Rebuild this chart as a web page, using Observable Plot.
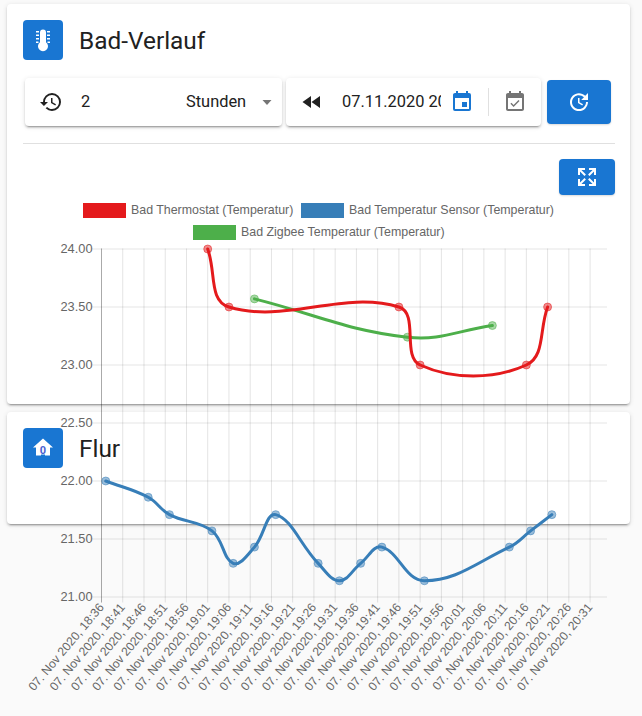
<!DOCTYPE html>
<html lang="de">
<head>
<meta charset="utf-8">
<title>Bad-Verlauf</title>
<script src="https://cdn.jsdelivr.net/npm/d3@7"></script>
<script src="https://cdn.jsdelivr.net/npm/@observablehq/plot@0.6"></script>
<style>
  html,body{margin:0;padding:0;background:#fafafa;}
  body{position:relative;width:642px;height:716px;overflow:hidden;font-family:Roboto,sans-serif;color:#212121;}
  .abs{position:absolute;}
  .card{position:absolute;background:#fff;border-radius:4px;box-shadow:0 3px 1px -2px rgba(0,0,0,.2),0 2px 2px 0 rgba(0,0,0,.14),0 1px 5px 0 rgba(0,0,0,.12);}
  .tile,.btn{position:absolute;background:#1976d2;border-radius:4px;display:flex;align-items:center;justify-content:center;}
  .btn{box-shadow:0 1px 2px rgba(0,0,0,.15);}
  .title{position:absolute;left:79px;font-size:24.4px;line-height:28px;}
  .field{position:absolute;font-size:16.4px;line-height:20px;}
  .icon{position:absolute;width:24px;height:24px;}
  .legend{position:absolute;font:12.4px "Liberation Sans",Arial,sans-serif;color:#666;white-space:nowrap;line-height:14px;}
  .swatch{position:absolute;width:43px;height:15px;}
  #chart{position:absolute;left:0;top:0;z-index:5;pointer-events:none;}
</style>
</head>
<body>
<div class="card" style="left:7px;top:4px;width:623px;height:400px;"></div>
<div class="card" style="left:7px;top:412px;width:623px;height:112px;"></div>

<div class="tile" style="left:23px;top:20px;width:40px;height:40px;">
  <svg width="24" height="24" viewBox="0 0 24 24" fill="#fff"><path d="M12 1.500a3 3 0 0 0-3 3v9.700a5 5 0 1 0 6 0V4.500a3 3 0 0 0-3-3z"/><path d="M5 3h3v1.500H5zM5 6.500h3V8H5zM5 10h3v1.500H5zM5 13.500h2.500V15H5zM16 3h3v1.500h-3zM16 6.500h3V8h-3zM16 10h3v1.500h-3zM16.500 13.500H19V15h-2.500z"/></svg>
</div>
<div class="title" style="top:27px;">Bad-Verlauf</div>

<div class="card" style="left:25px;top:78px;width:257px;height:48px;"></div>
<div class="card" style="left:286px;top:78px;width:255px;height:48px;"></div>

<svg class="icon" style="left:39px;top:90px;" viewBox="0 0 24 24" fill="#212121"><path d="M13 3a9 9 0 0 0-9 9H1l3.890 3.890.070.140L9 12H6c0-3.870 3.130-7 7-7s7 3.130 7 7-3.130 7-7 7c-1.930 0-3.680-.790-4.940-2.060l-1.420 1.420A8.954 8.954 0 0 0 13 21a9 9 0 0 0 0-18zm-1 5v5l4.280 2.540.720-1.210-3.500-2.080V8H12z"/></svg>
<div class="field" style="left:81px;top:92px;">2</div>
<div class="field" style="left:186px;top:92px;">Stunden</div>
<svg class="abs" style="left:261px;top:100px;" width="12" height="6" viewBox="0 0 12 6"><path d="M1.500 0h9L6 5z" fill="#757575"/></svg>

<svg class="icon" style="left:300px;top:90px;" viewBox="0 0 24 24" fill="#212121"><path d="M11 18V6l-8.500 6 8.500 6zm.500-6l8.500 6V6l-8.500 6z"/></svg>
<div class="field" style="left:342px;top:92px;width:99px;overflow:hidden;white-space:nowrap;">07.11.2020 20:21</div>
<svg class="icon" style="left:450px;top:90px;" viewBox="0 0 24 24" fill="#1976d2"><path d="M19 3h-1V1h-2v2H8V1H6v2H5c-1.110 0-2 .900-2 2v14a2 2 0 0 0 2 2h14a2 2 0 0 0 2-2V5a2 2 0 0 0-2-2zm0 16H5V8h14v11zM17 12h-5v5h5v-5z"/></svg>
<div class="abs" style="left:488px;top:88px;width:1px;height:28px;background:#e0e0e0;"></div>
<svg class="icon" style="left:503px;top:90px;" viewBox="0 0 24 24" fill="#757575"><path d="M16.530 11.060L15.470 10l-4.880 4.880-2.120-2.120-1.060 1.060L10.590 17l5.940-5.940zM19 3h-1V1h-2v2H8V1H6v2H5c-1.110 0-1.990.900-1.990 2L3 19c0 1.100.890 2 2 2h14c1.100 0 2-.900 2-2V5c0-1.100-.900-2-2-2zm0 16H5V8h14v11z"/></svg>

<div class="btn" style="left:547px;top:80px;width:64px;height:44px;">
  <svg width="24" height="24" viewBox="0 0 24 24" fill="#fff"><path d="M21 10.120h-6.780l2.740-2.820c-2.730-2.700-7.150-2.800-9.880-.100-2.730 2.710-2.730 7.080 0 9.790s7.150 2.710 9.880 0C18.320 15.650 19 14.080 19 12.100h2c0 1.980-.880 4.550-2.640 6.290-3.510 3.480-9.210 3.480-12.720 0-3.500-3.470-3.530-9.110-.020-12.580s9.140-3.470 12.650 0L21 3v7.120zM12.500 8v4.250l3.500 2.080-.720 1.210L11 13V8h1.500z"/></svg>
</div>

<div class="abs" style="left:23px;top:143px;width:592px;height:1px;background:#e0e0e0;"></div>

<div class="btn" style="left:559px;top:159px;width:56px;height:36px;">
  <svg width="24" height="24" viewBox="0 0 24 24" fill="#fff"><path d="M9.500 13.090L10.910 14.500L6.410 19H10V21H3V14H5V17.590L9.500 13.090M10.910 9.500L9.500 10.910L5 6.410V10H3V3H10V5H6.410L10.910 9.500M14.500 13.090L19 17.590V14H21V21H14V19H17.590L13.090 14.500L14.500 13.090M13.090 9.500L17.590 5H14V3H21V10H19V6.410L14.500 10.910L13.090 9.500Z"/></svg>
</div>

<div class="swatch" style="left:83px;top:203px;background:#e41a1c;"></div>
<div class="legend" style="left:131px;top:203px;">Bad Thermostat (Temperatur)</div>
<div class="swatch" style="left:301px;top:203px;background:#377eb8;"></div>
<div class="legend" style="left:349px;top:203px;">Bad Temperatur Sensor (Temperatur)</div>
<div class="swatch" style="left:193px;top:225px;background:#4daf4a;"></div>
<div class="legend" style="left:241px;top:225px;">Bad Zigbee Temperatur (Temperatur)</div>

<div class="tile" style="left:23px;top:428px;width:40px;height:40px;">
  <svg width="24" height="24" viewBox="0 0 24 24"><path d="M10 20v-6h4v6h5v-8h3L12 3 2 12h3v8z" fill="#fff" transform="translate(0,-0.500)"/><rect x="9.500" y="9" width="5" height="9.500" fill="#fff"/><text x="12" y="18" text-anchor="middle" font-family="Roboto" font-weight="700" font-size="11" fill="#4a5fd0">0</text></svg>
</div>
<div class="title" style="top:435px;">Flur</div>

<div id="chart"></div>

<script>
// Tick labels and value ticks
const dayLabel = "07. Nov 2020";
const xTickTimes = ["18:36","18:41","18:46","18:51","18:56","19:01","19:06","19:11","19:16","19:21","19:26","19:31","19:36","19:41","19:46","19:51","19:56","20:01","20:06","20:11","20:16","20:21","20:26","20:31"];
const yTicks = [21, 21.5, 22, 22.5, 23, 23.5, 24];

// Bad Thermostat (Temperatur)
const thermostatTimes = ["19:01","19:06","19:46","19:51","20:16","20:21"];
const thermostatValues = [24.0, 23.5, 23.5, 23.0, 23.0, 23.5];

// Bad Temperatur Sensor (Temperatur)
const sensorTimes = ["18:37","18:47","18:52","19:02","19:07","19:12","19:17","19:27","19:32","19:37","19:42","19:52","20:12","20:17","20:22"];
const sensorValues = [22.0, 21.86, 21.71, 21.57, 21.29, 21.43, 21.71, 21.29, 21.14, 21.29, 21.43, 21.14, 21.43, 21.57, 21.71];

// Bad Zigbee Temperatur (Temperatur)
const zigbeeTimes = ["19:12","19:48","20:08"];
const zigbeeValues = [23.57, 23.24, 23.34];

const colors = {thermostat:"#e41a1c", sensor:"#377eb8", zigbee:"#4daf4a"};

const toDate = t => new Date(`2020-11-07T${t}:00Z`);
const rows = (times, values) => times.map((t,i) => ({time: toDate(t), value: values[i]}));

// Chart.js style bezier spline (tension 0.4), as a d3 curve factory
function chartSpline(context){
  let pts;
  const t = 0.4;
  return {
    areaStart(){}, areaEnd(){},
    lineStart(){ pts = []; },
    point(x,y){ pts.push([+x,+y]); },
    lineEnd(){
      const n = pts.length;
      if (!n) return;
      const ctrl = pts.map((p,i) => {
        const a = pts[Math.max(i-1,0)], b = pts[Math.min(i+1,n-1)];
        const d01 = Math.hypot(p[0]-a[0],p[1]-a[1]), d12 = Math.hypot(b[0]-p[0],b[1]-p[1]);
        const sum = d01+d12 || 1;
        const fa = t*d01/sum, fb = t*d12/sum;
        return {
          px: p[0]-fa*(b[0]-a[0]), py: p[1]-fa*(b[1]-a[1]),
          nx: p[0]+fb*(b[0]-a[0]), ny: p[1]+fb*(b[1]-a[1])
        };
      });
      context.moveTo(pts[0][0],pts[0][1]);
      for (let i=1;i<n;i++){
        context.bezierCurveTo(ctrl[i-1].nx,ctrl[i-1].ny,ctrl[i].px,ctrl[i].py,pts[i][0],pts[i][1]);
      }
    }
  };
}

const seriesMarks = (data, color) => [
  Plot.line(data, {x:"time", y:"value", stroke:color, strokeWidth:3, curve:chartSpline}),
  Plot.dot(data, {x:"time", y:"value", r:4, fill:color, fillOpacity:0.5, stroke:color, strokeOpacity:0.5, strokeWidth:1})
];

const xTickDates = xTickTimes.map(toDate);
const labelOf = d => `${dayLabel}, ${d3.utcFormat("%H:%M")(d)}`;

const chart = Plot.plot({
  width:642,
  height:716,
  marginLeft:101,
  marginRight:35,
  marginTop:248.500,
  marginBottom:119.500,
  style:{background:"transparent", fontFamily:'"Liberation Sans",Arial,sans-serif', fontSize:"12.8px"},
  x:{type:"utc", domain:[toDate("18:36"), new Date("2020-11-07T20:35:06Z")]},
  y:{domain:[21,24]},
  marks:[
    Plot.ruleY(yTicks, {y:d=>d, stroke:"#000", strokeOpacity:0.1, insetLeft:-9}),
    Plot.ruleX(xTickDates, {x:d=>d, stroke:"#000", strokeOpacity:0.11, insetBottom:-6}),
    Plot.ruleX([xTickDates[0]], {x:d=>d, stroke:"#000", strokeOpacity:0.25, insetBottom:-6}),
    Plot.axisY({ticks:yTicks, tickSize:0, tickPadding:9, tickFormat:d3.format(".2f"), label:null, fill:"#666"}),
    Plot.axisX({ticks:xTickDates, tickSize:0, tickPadding:8, tickRotate:-50, tickFormat:labelOf, label:null, fill:"#666", fontSize:12.2}),
    ...seriesMarks(rows(zigbeeTimes, zigbeeValues), colors.zigbee),
    ...seriesMarks(rows(sensorTimes, sensorValues), colors.sensor),
    ...seriesMarks(rows(thermostatTimes, thermostatValues), colors.thermostat)
  ]
});
document.getElementById("chart").append(chart);
</script>
</body>
</html>
